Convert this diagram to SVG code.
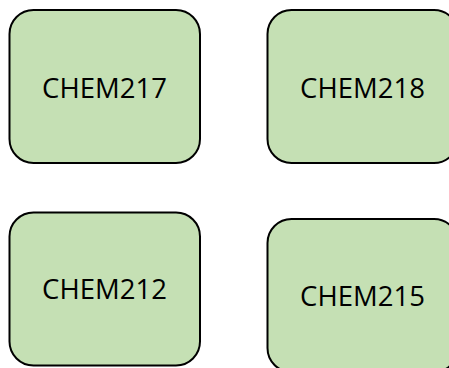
<svg xmlns="http://www.w3.org/2000/svg" width="449" height="368" viewBox="0 0 449 368">
<style>
.box{fill:#C5E0B4;stroke:#000;stroke-width:2}
.lbl{font-family:"Open Sans","Liberation Sans",sans-serif;font-size:27.5px;fill:#000;text-anchor:middle}
</style>
<rect width="449" height="368" fill="#fff"/>
<g id="connectors"></g>
<g id="chem217"><rect class="box" x="9.5" y="10" width="190.5" height="153" rx="24"/><text class="lbl" x="104.5" y="98">CHEM217</text></g>
<g id="chem218"><rect class="box" x="267.5" y="10" width="190.5" height="153" rx="24"/><text class="lbl" x="362.5" y="98">CHEM218</text></g>
<g id="chem212"><rect class="box" x="9.5" y="212.5" width="190.5" height="153" rx="24"/><text class="lbl" x="104.5" y="299">CHEM212</text></g>
<g id="chem215"><rect class="box" x="267.5" y="219" width="190.5" height="153" rx="24"/><text class="lbl" x="362.5" y="306">CHEM215</text></g>
</svg>
